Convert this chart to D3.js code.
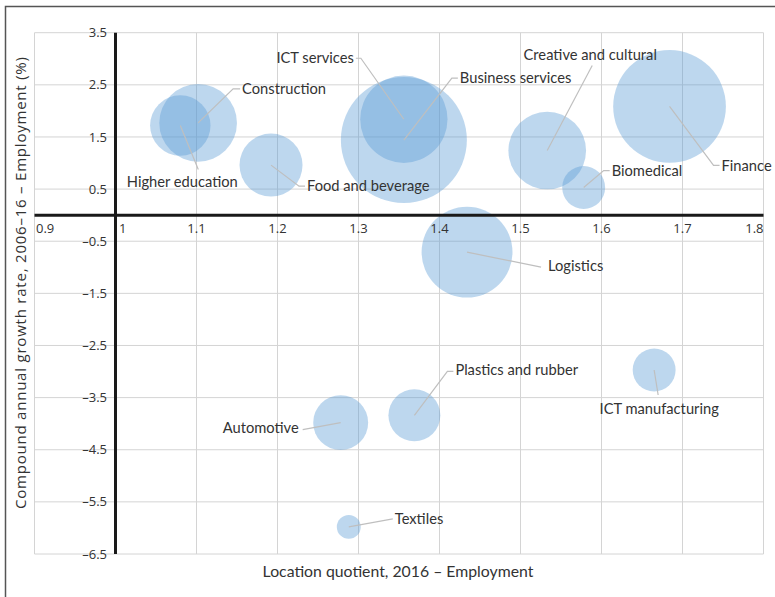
<!DOCTYPE html>
<html>
<head>
<meta charset="utf-8">
<script src="https://cdn.jsdelivr.net/npm/d3@7"></script>
<style>
  body { margin: 0; background: #fff; }
  svg text { fill: #333; }
  .tick-label { font-family: "Open Sans", sans-serif; font-size: 13px; }
  .bubble-label { font-family: Lato, sans-serif; font-size: 14.7px; }
  .axis-title { font-family: Lato, sans-serif; font-size: 15.8px; }
  .y-title { font-family: "Open Sans", sans-serif; font-size: 15px; }
</style>
</head>
<body>
<svg width="775" height="597"></svg>
<script>
  // sectors
  var sectors = ["Higher education", "Construction", "Food and beverage", "ICT services",
    "Business services", "Creative and cultural", "Biomedical", "Finance", "Logistics",
    "Plastics and rubber", "ICT manufacturing", "Automotive", "Textiles"];
  // location quotient, 2016
  var locationQuotient = [1.080, 1.102, 1.192, 1.356, 1.356, 1.533, 1.578, 1.684, 1.434,
    1.369, 1.665, 1.278, 1.288];
  // compound annual growth rate 2006-16 (%)
  var growthRate = [1.72, 1.77, 0.96, 1.84, 1.44, 1.24, 0.53, 2.085, -0.71,
    -3.84, -2.97, -3.98, -5.98];
  // relative employment (bubble size)
  var employment = [23, 38, 25, 48, 100, 38, 11.6, 80, 52, 17, 11.6, 19, 3.6];

  var xTicks = [0.9, 1, 1.1, 1.2, 1.3, 1.4, 1.5, 1.6, 1.7, 1.8];
  var yTicks = [3.5, 2.5, 1.5, 0.5, -0.5, -1.5, -2.5, -3.5, -4.5, -5.5, -6.5];

  // label placement, pixels from the bubble centre: text point, anchor, leader elbow and end
  var labelLayout = {
    "Higher education":      { dx: 2,   dy: 56,  anchor: "middle", leader: [[18, 44]] },
    "Construction":          { dx: 44,  dy: -34, anchor: "start",  leader: [[35, -34], [42, -34]] },
    "Food and beverage":     { dx: 36,  dy: 21,  anchor: "start",  leader: [[28, 21], [34, 21]] },
    "ICT services":          { dx: -50, dy: -61, anchor: "end",    leader: [[-43, -61], [-48, -61]] },
    "Business services":     { dx: 56,  dy: -62, anchor: "start",  leader: [[48, -62], [54, -62]] },
    "Creative and cultural": { dx: 43,  dy: -96, anchor: "middle", leader: [[45, -85]] },
    "Biomedical":            { dx: 28,  dy: -17, anchor: "start",  leader: [[20, -17], [26, -17]] },
    "Finance":               { dx: 52,  dy: 59,  anchor: "start",  leader: [[44, 59], [50, 59]] },
    "Logistics":             { dx: 81,  dy: 14,  anchor: "start",  leader: [[74, 15]] },
    "Plastics and rubber":   { dx: 41,  dy: -45, anchor: "start",  leader: [[33, -44], [39, -44]] },
    "ICT manufacturing":     { dx: 5,   dy: 39,  anchor: "middle", leader: [[4, 25]] },
    "Automotive":            { dx: -42, dy: 5,   anchor: "end",    leader: [[-38, 7]] },
    "Textiles":              { dx: 46,  dy: -8,  anchor: "start",  leader: [[44, -8]] }
  };

  var svg = d3.select("svg");

  var x = d3.scaleLinear().domain([0.9, 1.8]).range([34.5, 763.5]);
  var y = d3.scaleLinear().domain([-6.5, 3.5]).range([554, 32.7]);
  var r = d3.scaleSqrt().domain([0, 100]).range([0, 63]);

  function fmt(v) {
    return String(v).replace("-", "\u2013");
  }

  // outer frame (left and top edges only)
  svg.append("path")
      .attr("d", "M 5.5 597 L 5.5 6.5 L 775 6.5")
      .attr("fill", "none")
      .attr("stroke", "#555")
      .attr("stroke-width", 1.5);

  // gridlines
  svg.append("g")
      .selectAll("line").data(xTicks).enter()
      .append("line")
      .attr("x1", function (d) { return x(d); })
      .attr("x2", function (d) { return x(d); })
      .attr("y1", y(3.5))
      .attr("y2", y(-6.5))
      .attr("stroke", "#d4d4d4")
      .attr("stroke-width", 1);

  svg.append("g")
      .selectAll("line").data(yTicks).enter()
      .append("line")
      .attr("x1", x(0.9))
      .attr("x2", x(1.8))
      .attr("y1", function (d) { return y(d); })
      .attr("y2", function (d) { return y(d); })
      .attr("stroke", "#d4d4d4")
      .attr("stroke-width", 1);

  // bubbles
  var points = sectors.map(function (s, i) {
    return { name: s, lq: locationQuotient[i], cagr: growthRate[i], size: employment[i] };
  });

  svg.append("g")
      .selectAll("circle").data(points).enter()
      .append("circle")
      .attr("cx", function (d) { return x(d.lq); })
      .attr("cy", function (d) { return y(d.cagr); })
      .attr("r", function (d) { return r(d.size); })
      .attr("fill", "#5b9bd5")
      .attr("fill-opacity", 0.4);

  // axes crossing at x = 1, y = 0
  svg.append("line")
      .attr("x1", x(0.9)).attr("x2", x(1.8))
      .attr("y1", y(0)).attr("y2", y(0))
      .attr("stroke", "#1a1a1a")
      .attr("stroke-width", 3);

  svg.append("line")
      .attr("x1", x(1)).attr("x2", x(1))
      .attr("y1", y(3.5)).attr("y2", y(-6.5))
      .attr("stroke", "#1a1a1a")
      .attr("stroke-width", 3);

  // x tick labels sit under the y = 0 line
  svg.append("g")
      .selectAll("text").data(xTicks).enter()
      .append("text")
      .attr("class", "tick-label")
      .attr("x", function (d) {
        if (d === 0.9) return x(d) + 1.5;
        if (d === 1) return x(d) + 3.5;
        return x(d);
      })
      .attr("y", y(0) + 13)
      .attr("dy", "0.35em")
      .attr("text-anchor", function (d) {
        if (d === 0.9 || d === 1) return "start";
        if (d === 1.8) return "end";
        return "middle";
      })
      .text(function (d) { return fmt(d); });

  svg.append("g")
      .selectAll("text").data(yTicks).enter()
      .append("text")
      .attr("class", "tick-label")
      .attr("x", x(1) - 8.5)
      .attr("y", function (d) { return y(d); })
      .attr("dy", "0.35em")
      .attr("text-anchor", "end")
      .text(function (d) { return fmt(d); });

  // leader lines
  svg.append("g")
      .selectAll("path").data(points).enter()
      .append("path")
      .attr("fill", "none")
      .attr("stroke", "#bfbfbf")
      .attr("stroke-width", 1.2)
      .attr("d", function (d) {
        var cx = x(d.lq), cy = y(d.cagr);
        var pts = [[cx, cy]].concat(labelLayout[d.name].leader.map(function (p) {
          return [cx + p[0], cy + p[1]];
        }));
        return d3.line()(pts);
      });

  // bubble labels
  svg.append("g")
      .selectAll("text").data(points).enter()
      .append("text")
      .attr("class", "bubble-label")
      .attr("x", function (d) { return x(d.lq) + labelLayout[d.name].dx; })
      .attr("y", function (d) { return y(d.cagr) + labelLayout[d.name].dy; })
      .attr("dy", "0.35em")
      .attr("text-anchor", function (d) { return labelLayout[d.name].anchor; })
      .text(function (d) { return d.name; });

  // axis titles
  svg.append("text")
      .attr("class", "axis-title")
      .attr("x", 398)
      .attr("y", 571)
      .attr("dy", "0.35em")
      .attr("text-anchor", "middle")
      .text("Location quotient, 2016 \u2013 Employment");

  svg.append("text")
      .attr("class", "y-title")
      .attr("transform", "translate(21,283) rotate(-90)")
      .attr("dy", "0.35em")
      .attr("text-anchor", "middle")
      .attr("textLength", 452)
      .attr("lengthAdjust", "spacing")
      .text("Compound annual growth rate, 2006\u201316 \u2013 Employment (%)");
</script>
</body>
</html>
